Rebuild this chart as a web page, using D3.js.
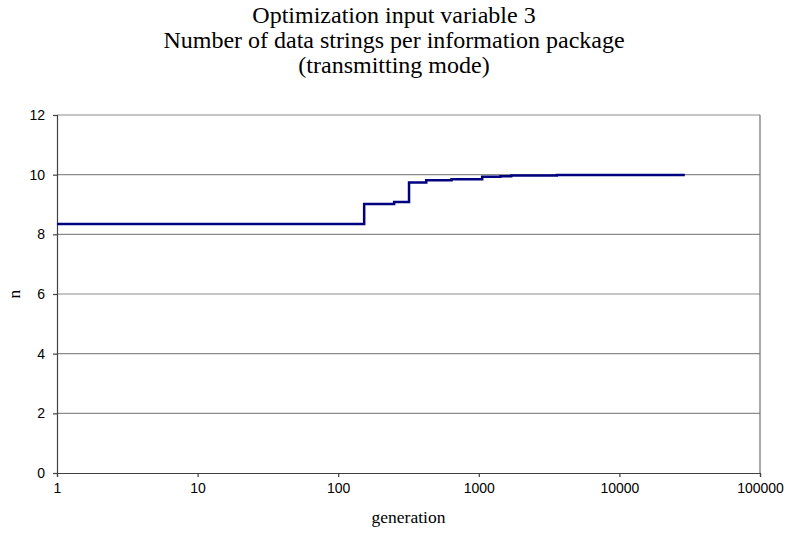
<!DOCTYPE html>
<html>
<head>
<meta charset="utf-8">
<script src="https://cdn.jsdelivr.net/npm/d3@7"></script>
<style>
  body { margin: 0; background: #fff; }
  svg { display: block; }
</style>
</head>
<body>
<svg width="787" height="533"></svg>
<script>
// step data: generation where the best value changes, and the value
var generations = [1, 153, 250, 319, 423, 640, 1057, 1425, 1700, 3590, 29200];
var values      = [8.35, 9.02, 9.08, 9.74, 9.81, 9.85, 9.93, 9.95, 9.97, 9.99, 9.99];

var xTicks = [1, 10, 100, 1000, 10000, 100000];
var yTicks = [0, 2, 4, 6, 8, 10, 12];
var titleLines = ["Optimization input variable 3",
                  "Number of data strings per information package",
                  "(transmitting mode)"];

var svg = d3.select("svg");
var margin = {left: 57, right: 27, top: 115, bottom: 60};
var width  = +svg.attr("width");
var height = +svg.attr("height");

var x = d3.scaleLog().domain([1, 100000]).range([margin.left, width - margin.right]);
var y = d3.scaleLinear().domain([0, 12]).range([height - margin.bottom, margin.top]);

// gridlines
svg.append("g")
  .selectAll("line")
  .data(yTicks.filter(function(d) { return d > 0; }))
  .enter().append("line")
    .attr("x1", x(1)).attr("x2", x(100000))
    .attr("y1", function(d) { return y(d); })
    .attr("y2", function(d) { return y(d); })
    .attr("stroke", "#8c8c8c")
    .attr("stroke-width", 1.2);

// right border
svg.append("line")
  .attr("x1", x(100000)).attr("x2", x(100000))
  .attr("y1", y(12)).attr("y2", y(0))
  .attr("stroke", "#707070").attr("stroke-width", 1.2);

// axes
var xAxis = d3.axisBottom(x).tickValues(xTicks).tickFormat(d3.format("d")).tickSizeOuter(0).tickSize(4).tickPadding(6);
var yAxis = d3.axisLeft(y).tickValues(yTicks).tickSizeOuter(0).tickSize(4).tickPadding(8);

var gx = svg.append("g").attr("transform", "translate(0," + y(0) + ")").call(xAxis);
var gy = svg.append("g").attr("transform", "translate(" + x(1) + ",0)").call(yAxis);

[gx, gy].forEach(function(g) {
  g.selectAll("path, line").attr("stroke", "#404040").attr("stroke-width", 1.2);
  g.selectAll("text")
    .attr("fill", "#000")
    .style("font-family", "Liberation Sans, Arial, sans-serif")
    .style("font-size", "14px");
});

// the step line
var pts = generations.map(function(g, i) { return [g, values[i]]; });
var line = d3.line()
  .x(function(d) { return x(d[0]); })
  .y(function(d) { return y(d[1]); })
  .curve(d3.curveStepAfter);

svg.append("path")
  .datum(pts)
  .attr("d", line)
  .attr("fill", "none")
  .attr("stroke", "#000080")
  .attr("stroke-width", 2.5);

// title
svg.append("text")
  .attr("text-anchor", "middle")
  .style("font-family", "Liberation Serif, Times New Roman, serif")
  .style("font-size", "24px")
  .selectAll("tspan")
  .data(titleLines)
  .enter().append("tspan")
    .attr("x", 394)
    .attr("y", function(d, i) { return 23 + i * 25; })
    .text(function(d) { return d; });

// axis titles
svg.append("text")
  .attr("x", (x(1) + x(100000)) / 2)
  .attr("y", 523)
  .attr("text-anchor", "middle")
  .style("font-family", "Liberation Serif, Times New Roman, serif")
  .style("font-size", "17.5px")
  .text("generation");

svg.append("text")
  .attr("transform", "translate(19.5," + (y(6)) + ") rotate(-90)")
  .attr("text-anchor", "middle")
  .style("font-family", "Liberation Serif, Times New Roman, serif")
  .style("font-size", "17.5px")
  .text("n");
</script>
</body>
</html>
